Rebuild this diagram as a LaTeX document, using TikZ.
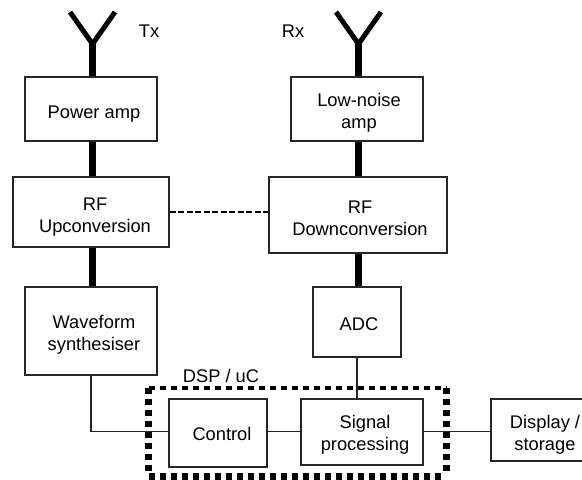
\documentclass[tikz,border=0pt]{standalone}
\usepackage{fontspec}
\setmainfont{Liberation Sans}
\tikzset{
  x=1pt,y=-1pt,
  blockbox/.style={draw=black!85,line width=1.3pt,fill=white,inner sep=0pt,font=\fontsize{18.3}{22}\selectfont},
  thick wire/.style={line width=7pt,black},
  thin wire/.style={line width=1.3pt,black!85},
  aerial/.style={line width=5pt,black,line join=miter},
  dsp side/.style={line width=6.5pt,black,dash pattern=on 6pt off 5pt,shorten >=2pt},
  dsp top/.style={line width=4pt,black,dash pattern=on 6pt off 5pt},
  plain label/.style={inner sep=0pt,font=\fontsize{18.3}{22}\selectfont}
}
% name, x1, y1, x2, y2, text dx, text dy, text
\newcommand{\blockat}[8]{\node[blockbox,minimum width=#4 pt - #2 pt,minimum height=#5 pt - #3 pt] (#1) at ({(#2+#4)/2},{(#3+#5)/2}) {\hspace*{#6pt}\raisebox{-#7pt}[\height][\depth]{\begin{tabular}{@{}c@{}}#8\end{tabular}}};}
\begin{document}
\begin{tikzpicture}
\useasboundingbox (0,0) rectangle (582,480);
\fill[white] (0,0) rectangle (582,480);
% frame
\coordinate (fa) at (148.5,387.5);
\coordinate (fb) at (446.5,387.5);
\coordinate (fc) at (446.5,476.5);
\coordinate (fd) at (148.5,476.5);
\draw[dsp top] (fa) -- (fb);
\draw[dsp side] (fb) -- (fc);
\draw[dsp side] (fd) -- (fc);
\draw[dsp side] (fa) -- (fd);
% coordinates
\coordinate (txtip) at (92.5,44);
\coordinate (txl) at (70,12);
\coordinate (txr) at (115,12);
\coordinate (rxtip) at (358.5,44);
\coordinate (rxl) at (336,12);
\coordinate (rxr) at (381,12);
\coordinate (wfbend) at (91,431.5);
% blocks
\blockat{pa}{25}{77}{157}{141}{6}{5}{Power amp}
\blockat{up}{13}{177}{169}{247}{8}{5.5}{RF\\Upconversion}
\blockat{wf}{25}{287}{157}{375}{6}{4}{Waveform\\synthesiser}
\blockat{ctl}{169}{399}{267}{467}{8}{3}{Control}
\blockat{lna}{291}{77}{423}{141}{4}{4}{Low-noise\\amp}
\blockat{down}{269}{177}{447}{253}{4}{5.5}{RF\\Downconversion}
\blockat{adc}{313}{287}{401}{357}{4}{4}{ADC}
\blockat{sig}{301}{399}{423}{465}{6}{3}{Signal\\processing}
\blockat{disp}{491}{399}{585}{461}{14}{5}{Display /\\storage}
% labels
\node[plain label] (tx) at (149,31) {Tx};
\node[plain label] (rx) at (293,31) {Rx};
\node[plain label] (dsp) at (221,376) {DSP / uC};
% antennas
\draw[aerial] (txl) -- (txtip) -- (txr);
\draw[aerial] (rxl) -- (rxtip) -- (rxr);
% thick connectors
\draw[thick wire] (txtip) -- (txtip|-pa.north);
\draw[thick wire] (pa.south-|txtip) -- (up.north-|txtip);
\draw[thick wire] (up.south-|txtip) -- (wf.north-|txtip);
\draw[thick wire] (rxtip) -- (rxtip|-lna.north);
\draw[thick wire] (lna.south-|rxtip) -- (down.north-|rxtip);
\draw[thick wire] (down.south-|rxtip) -- (adc.north-|rxtip);
% thin connectors
\draw[thin wire] (wf.south-|wfbend) -- (wfbend) -- (wfbend-|ctl.west);
\draw[thin wire] (ctl.east|-wfbend) -- (sig.west|-wfbend);
\draw[thin wire] (adc.south) -- (sig.north-|adc.south);
\draw[thin wire] (sig.east|-wfbend) -- (disp.west|-wfbend);
\coordinate (dashy) at (0,212);
\draw[line width=2pt,dash pattern=on 6pt off 2.5pt] (up.east|-dashy) -- (down.west|-dashy);
\end{tikzpicture}
\end{document}
